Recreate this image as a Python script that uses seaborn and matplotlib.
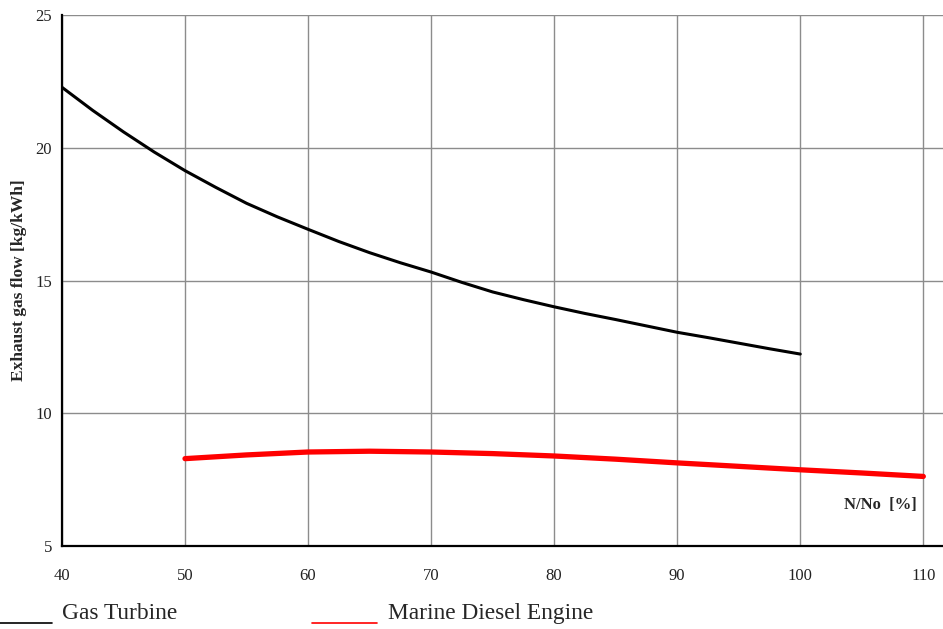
import pandas as pd
import matplotlib.pyplot as plt
import seaborn as sns
from matplotlib.lines import Line2D

# Values
gt_load = [40, 42.5, 45, 47.5, 50, 52.5, 55, 57.5, 60, 62.5, 65, 67.5, 70,
           72.5, 75, 77.5, 80, 82.5, 85, 87.5, 90, 92.5, 95, 97.5, 100]
gt_flow = [22.28, 21.41, 20.60, 19.84, 19.14, 18.51, 17.91, 17.40, 16.93, 16.47, 16.05, 15.67, 15.32,
           14.93, 14.57, 14.28, 14.01, 13.76, 13.53, 13.29, 13.05, 12.85, 12.64, 12.43, 12.23]

de_load = [50, 55, 60, 65, 70, 75, 80, 85, 90, 95, 100, 105, 110]
de_flow = [8.29, 8.43, 8.54, 8.57, 8.54, 8.48, 8.39, 8.27, 8.13, 8.0, 7.87, 7.75, 7.62]

x_ticks = [40, 50, 60, 70, 80, 90, 100, 110]
y_ticks = [5, 10, 15, 20, 25]

gt = pd.DataFrame({'load': gt_load, 'flow': gt_flow})
de = pd.DataFrame({'load': de_load, 'flow': de_flow})

sns.set_style('white')
plt.rcParams['font.family'] = ['Liberation Serif', 'DejaVu Serif']

fig = plt.figure(figsize=(9.43, 6.29), dpi=100)
ax = fig.add_axes([0.0657, 0.132, 0.9343, 0.844])

sns.lineplot(data=gt, x='load', y='flow', color='black', linewidth=2.2, ax=ax)
sns.lineplot(data=de, x='load', y='flow', color='#ff0000', linewidth=3.8, ax=ax)

ax.set_xlim(40, 111.6)
ax.set_ylim(5, 25)
ax.set_xticks(x_ticks)
ax.set_yticks(y_ticks)
ax.grid(True, color='#8c8c8c', linewidth=1.0)
ax.set_axisbelow(True)

for side in ['top', 'right']:
    ax.spines[side].set_visible(False)
for side in ['left', 'bottom']:
    ax.spines[side].set_color('black')
    ax.spines[side].set_linewidth(1.6)

ax.tick_params(axis='both', direction='out', length=4, width=1, colors='black',
               labelsize=12, labelcolor='#222222')
ax.tick_params(axis='x', pad=12)
ax.tick_params(axis='y', pad=3)

ax.set_xlabel('')
ax.set_ylabel('Exhaust gas flow [kg/kWh]', fontsize=12.5, fontweight='bold', labelpad=6)
ax.text(0.97, 0.077, 'N/No  [%]', transform=ax.transAxes, fontsize=12,
        fontweight='bold', ha='right', va='center')

# legend drawn underscore-style below the plot
fig.add_artist(Line2D([0.0, 0.055], [0.0095, 0.0095], color='black', linewidth=1.2))
fig.text(0.0655, 0.0155, 'Gas Turbine', fontsize=16.8, ha='left', va='baseline')
fig.add_artist(Line2D([0.331, 0.4], [0.0095, 0.0095], color='#ff0000', linewidth=1.2))
fig.text(0.411, 0.0155, 'Marine Diesel Engine', fontsize=16.8, ha='left', va='baseline')

plt.savefig('out.png', dpi=100)
